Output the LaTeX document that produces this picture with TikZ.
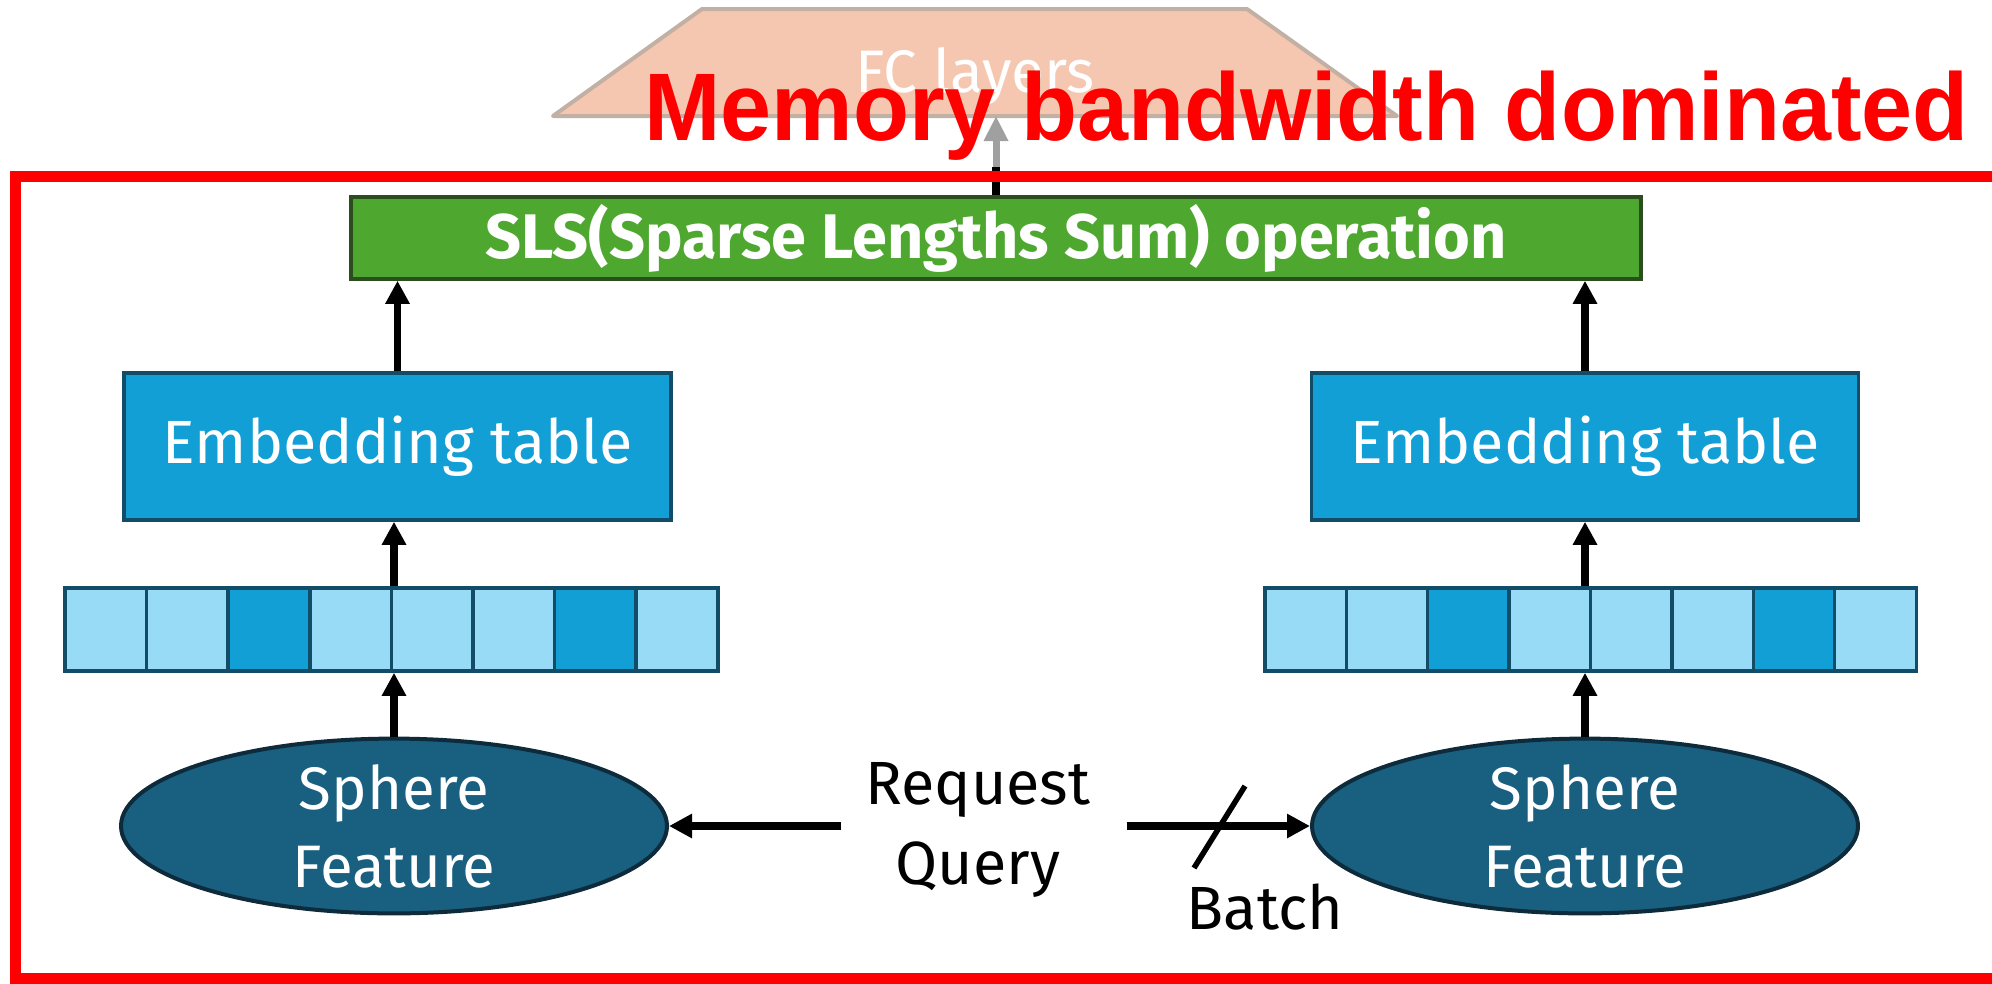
\documentclass[tikz,border=0pt]{standalone}
\usepackage{fontspec}
\setmainfont{Fira Sans}
\newfontfamily\headfont[FakeStretch=0.955]{Liberation Sans}
\usetikzlibrary{arrows.meta,shapes.geometric}

\definecolor{fcfill}{HTML}{F6C7B0}
\definecolor{fcedge}{HTML}{C2B0A5}
\definecolor{fcarrow}{HTML}{A0A0A0}
\definecolor{slsgreen}{HTML}{4EA72E}
\definecolor{slsedge}{HTML}{2A4E1E}
\definecolor{embblue}{HTML}{119FD6}
\definecolor{embedge}{HTML}{124C66}
\definecolor{cellLight}{HTML}{97DBF6}
\definecolor{cellDark}{HTML}{119FD6}
\definecolor{sphfill}{HTML}{185F80}
\definecolor{sphedge}{HTML}{0D2B3B}

\tikzset{
  embbox/.style={draw=embedge, fill=embblue, line width=3.5pt, minimum width=547pt,
    minimum height=147pt, inner sep=0pt, text=white, font=\fontsize{61}{72}\selectfont},
  cellbox/.style={draw=embedge, line width=3.5pt, minimum width=81.6pt,
    minimum height=83pt, inner sep=0pt},
  sphere/.style={ellipse, draw=sphedge, fill=sphfill, line width=4pt, minimum width=546pt,
    minimum height=174pt, inner sep=0pt, text=white, align=center,
    font=\fontsize{60}{78}\selectfont},
  slsbox/.style={draw=slsedge, fill=slsgreen, line width=3.5pt, minimum width=1290pt,
    minimum height=82pt, inner sep=0pt, text=white, font=\bfseries\fontsize{63}{70}\selectfont},
  arr/.style={line width=7.5pt, -{Triangle[width=23pt,length=23pt]}},
  label/.style={align=center, font=\fontsize{61}{80}\selectfont, inner sep=0pt},
}

\begin{document}
\begin{tikzpicture}[x=1pt, y=-1pt]
  \useasboundingbox (0,0) rectangle (1992,983);
  \clip (0,0) rectangle (1992,983);

  % fully connected layers (faded)
  \draw[fill=fcfill, draw=fcedge, line width=4pt, line join=round]
    (553,116) -- (702,9) -- (1247,9) -- (1397,116) -- cycle;
  \node[text=white, font=\fontsize{60}{70}\selectfont, inner sep=0pt] (fc) at (975,76) {FC layers};
  \coordinate (fcbase) at (996,116);

  % sparse lengths sum
  \node[slsbox] (sls) at (996,238) {SLS(Sparse Lengths Sum) operation};
  \coordinate (frametop) at (sls.north |- 0,167);
  \draw[line width=7.5pt] (sls.north) -- (frametop);
  \draw[line width=7pt, draw=fcarrow, fill=fcarrow, -{Triangle[width=23pt,length=25pt]}] (frametop) -- (sls.north |- fcbase);

  % embedding tables
  \node[embbox] (embL) at (397.5,446.5) {Embedding table};
  \node[embbox] (embR) at (1585,446.5) {Embedding table};

  % index vectors
  \foreach \i/\c in {1/cellLight,2/cellLight,3/cellDark,4/cellLight,5/cellLight,6/cellLight,7/cellDark,8/cellLight}{
    \node[cellbox, fill=\c] (L\i) at ({65+81.6*(\i-0.5)},629.5) {};
    \node[cellbox, fill=\c] (R\i) at ({1265+81.4*(\i-0.5)},629.5) {};
  }

  % sphere features
  \node[sphere] (sphL) at (394,826) {Sphere\\Feature};
  \node[sphere] (sphR) at (1585,826) {Sphere\\Feature};

  % upward data flow
  \draw[arr] (sphL.north) -- (sphL.north |- L4.south);
  \draw[arr] (sphL.north |- L4.north) -- (sphL.north |- embL.south);
  \draw[arr] (embL.north) -- (embL.north |- sls.south);
  \draw[arr] (sphR.north) -- (sphR.north |- R4.south);
  \draw[arr] (sphR.north |- R4.north) -- (sphR.north |- embR.south);
  \draw[arr] (embR.north) -- (embR.north |- sls.south);

  % request query
  \node[label] (rq) at (978,830) {Request\\Query};
  \draw[arr] ([xshift=-24pt]rq.west |- sphL.east) -- (sphL.east);
  \draw[arr] ([xshift=36pt]rq.east |- sphR.west) -- (sphR.west);
  \coordinate (cut) at (1220,827);
  \draw[line width=5.5pt] ([shift={(-26,41)}]cut) -- ([shift={(25,-41)}]cut);
  \node[label] (batch) at (1265,907) {Batch};

  % memory-bound region
  \draw[red, line width=11pt] (15,176) rectangle (2020,978);
  \node[text=red, font=\headfont\bfseries\fontsize{96}{100}\selectfont, anchor=base west, inner sep=0pt]
    (mem) at (644,140) {Memory bandwidth dominated};
\end{tikzpicture}
\end{document}
